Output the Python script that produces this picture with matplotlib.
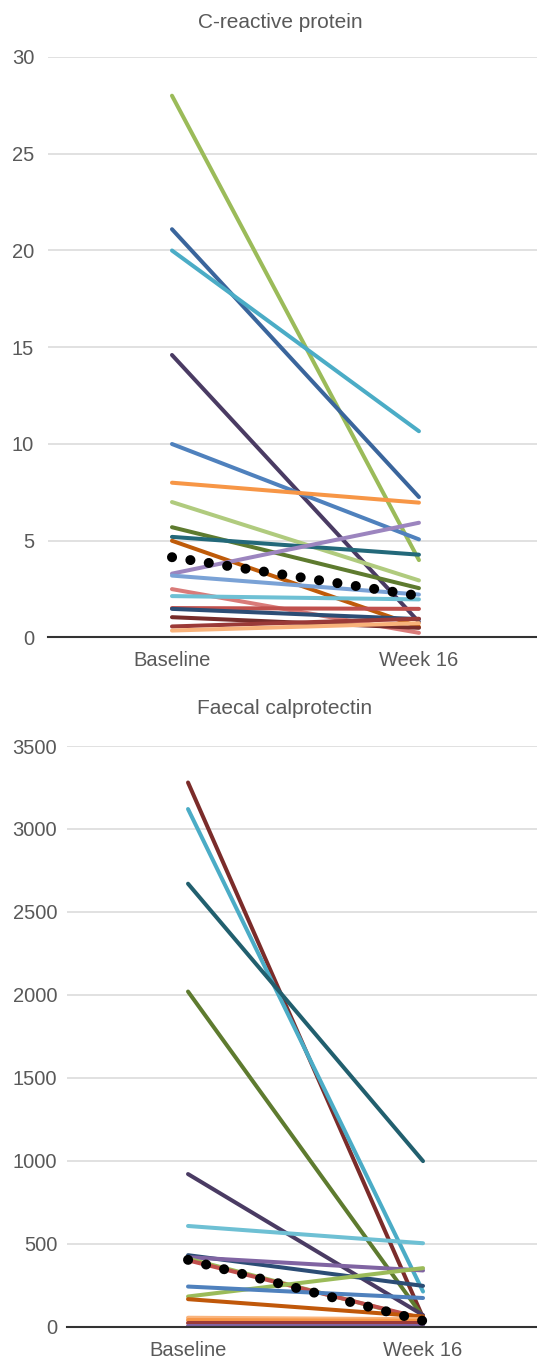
import matplotlib.pyplot as plt

plt.rcParams['font.family'] = ['Liberation Sans', 'DejaVu Sans']

categories = ["Baseline", "Week 16"]

# C-reactive protein, one pair per patient (baseline, week 16)
crp_base = [28.0, 21.1, 20.0, 14.6, 10.0, 8.0, 7.0, 5.7, 5.2, 5.0,
            3.3, 3.2, 2.5, 2.14, 1.52, 1.48, 1.05, 0.57, 0.36]
crp_wk16 = [4.0, 7.26, 10.66, 0.8, 5.07, 6.97, 2.95, 2.55, 4.28, 0.55,
            5.93, 2.22, 0.24, 1.97, 1.48, 0.95, 0.5, 0.97, 0.74]
crp_colors = ["#9bbb59", "#3a659c", "#4bacc6", "#4a3b63", "#4f81bd", "#f79646",
              "#b0cb7e", "#5e7b2f", "#23697a", "#bf5b09", "#9c85bf", "#7aa2d6",
              "#d97b79", "#6ec0d4", "#c0504d", "#2c4d75", "#772c2a", "#9b3a38",
              "#f8b27a"]
crp_mean = [4.15, 2.15]

# Faecal calprotectin
fc_base = [3280, 3120, 2670, 2020, 920, 607, 431, 419, 410, 400,
           182, 242, 166, 54, 40, 22, 5]
fc_wk16 = [55, 212, 998, 60, 70, 503, 246, 339, 45, 50,
           353, 173, 62, 45, 35, 22, 5]
fc_colors = ["#7b2c2a", "#4bacc6", "#215f6e", "#5e7b2f", "#4a3b63", "#6ec0d4",
             "#2c4d75", "#8064a2", "#9bbb59", "#c0504d", "#9bbb59", "#4f81bd",
             "#c0580a", "#f9b47c", "#f79646", "#9b3a38", "#8064a2"]
fc_mean = [403, 35]

text_col = "#595959"

fig = plt.figure(figsize=(5.37, 13.57), dpi=100)
ax1 = fig.add_axes([48/537, 1-637.5/1357, 489/537, 580.5/1357])
ax2 = fig.add_axes([67/537, 1-1326.7/1357, 470/537, 580.7/1357])


def draw(ax, base, wk16, colors, mean, ylim, yticks, xlim, ypad):
    x = [0, 1]
    for b, w, c in zip(base, wk16, colors):
        ax.plot(x, [b, w], color=c, lw=2.9, solid_capstyle='round', zorder=3)
    ax.plot(x, mean, color='black', lw=7.2, linestyle=(0, (0.01, 1.85)),
            dash_capstyle='round', zorder=5)
    ax.set_xlim(*xlim)
    ax.set_ylim(*ylim)
    ax.set_yticks(yticks)
    ax.set_xticks(x)
    ax.set_xticklabels(categories)
    ax.grid(axis='y', color='#d9d9d9', lw=1.1)
    ax.set_axisbelow(True)
    for s in ['top', 'right', 'left']:
        ax.spines[s].set_visible(False)
    ax.spines['bottom'].set_color('#333333')
    ax.spines['bottom'].set_linewidth(1.5)
    ax.spines['bottom'].set_zorder(4)
    ax.tick_params(axis='both', length=0, labelsize=14.5, labelcolor=text_col)
    ax.tick_params(axis='y', pad=ypad)
    ax.tick_params(axis='x', pad=10)


draw(ax1, crp_base, crp_wk16, crp_colors, crp_mean, (0, 30),
     [0, 5, 10, 15, 20, 25, 30], (-0.502, 1.478), 10)
draw(ax2, fc_base, fc_wk16, fc_colors, fc_mean, (0, 3500),
     [0, 500, 1000, 1500, 2000, 2500, 3000, 3500], (-0.515, 1.485), 7)

fig.text(280/537, 1-23/1357, "C-reactive protein", ha='center', va='center',
         fontsize=15, color=text_col)
fig.text(285/537, 1-709/1357, "Faecal calprotectin", ha='center', va='center',
         fontsize=15, color=text_col)

fig.savefig("out.png", dpi=100)
